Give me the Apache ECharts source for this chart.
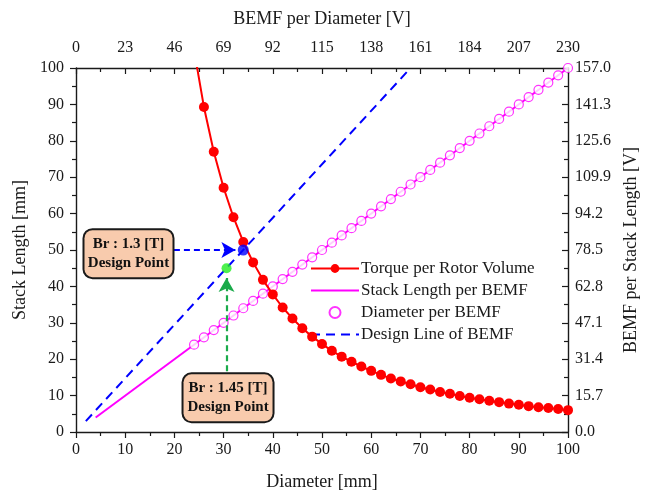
<!DOCTYPE html>
<html>
<head>
<meta charset="utf-8">
<script src="https://cdn.jsdelivr.net/npm/echarts@6/dist/echarts.min.js"></script>
<style>
  html, body { margin: 0; padding: 0; background: #ffffff; }
  #chart { width: 649px; height: 496px; }
</style>
</head>
<body>
<div id="chart"></div>
<script>
// Rotor diameter samples [mm]
const diameter = [24, 26, 28, 30, 32, 34, 36, 38, 40, 42, 44, 46, 48, 50, 52, 54, 56, 58, 60, 62,
                  64, 66, 68, 70, 72, 74, 76, 78, 80, 82, 84, 86, 88, 90, 92, 94, 96, 98, 100];
// Torque per rotor volume, expressed as stack length [mm]
const torquePerVolume = [104.9, 89.3, 77.0, 67.1, 59.0, 52.2, 46.6, 41.8, 37.8, 34.2, 31.2, 28.5, 26.2,
                         24.2, 22.3, 20.7, 19.3, 18.0, 16.8, 15.7, 14.7, 13.9, 13.1, 12.3, 11.7, 11.0,
                         10.5, 9.9, 9.4, 9.0, 8.6, 8.2, 7.8, 7.5, 7.1, 6.8, 6.6, 6.3, 6.0];
// Diameter per BEMF (hollow markers)
const diameterPerBemf = [24, 26, 28, 30, 32, 34, 36, 38, 40, 42, 44, 46, 48, 50, 52, 54, 56, 58, 60, 62,
                         64, 66, 68, 70, 72, 74, 76, 78, 80, 82, 84, 86, 88, 90, 92, 94, 96, 98, 100];
// Stack length per BEMF line
const stackLenX = [4, 100];
const stackLenY = [4, 100];
// Design line of BEMF
const designX = [2, 68];
const designY = [3, 100];
// Design points: [diameter, stack length]
const point13 = [34, 50];
const point145 = [30.6, 45];
// Secondary axis ticks
const bemfPerDiameterMax = 230, bemfPerDiameterStep = 23;
const bemfPerStackMax = 157, bemfPerStackStep = 15.7;

const FONT = 'Liberation Serif';
const INK = '#1a1a1a';

const zip = (xs, ys) => xs.map((x, i) => [x, ys[i]]);

const tickStyle = { color: INK, width: 1.2 };
function baseAxis(extra) {
  return Object.assign({
    type: 'value',
    axisLine: { show: true, onZero: false, lineStyle: { color: INK, width: 1.4 } },
    axisTick: { show: true, length: 6, lineStyle: tickStyle },
    minorTick: { show: true, splitNumber: 2, length: 4, lineStyle: tickStyle },
    splitLine: { show: false },
    axisLabel: { color: INK, fontFamily: FONT, fontSize: 16 },
    nameLocation: 'middle',
    nameTextStyle: { color: INK, fontFamily: FONT, fontSize: 18 }
  }, extra);
}

const chart = echarts.init(document.getElementById('chart'), null, { renderer: 'canvas' });

const option = {
  animation: false,
  backgroundColor: '#ffffff',
  grid: { left: 76, right: 81, top: 68, bottom: 62, containLabel: false },
  xAxis: [
    baseAxis({ position: 'bottom', min: 0, max: 100, interval: 10, name: 'Diameter [mm]', nameGap: 41,
      axisLabel: { color: INK, fontFamily: FONT, fontSize: 16, margin: 10 } }),
    baseAxis({ position: 'top', min: 0, max: bemfPerDiameterMax, interval: bemfPerDiameterStep,
      name: 'BEMF per Diameter [V]', nameGap: 40,
      axisTick: { show: true, inside: true, length: 6, lineStyle: tickStyle },
      minorTick: { show: true, splitNumber: 2, length: 4, lineStyle: tickStyle },
      axisLabel: { color: INK, fontFamily: FONT, fontSize: 16, margin: 12 } })
  ],
  yAxis: [
    baseAxis({ position: 'left', min: 0, max: 100, interval: 10, name: 'Stack Length [mm]', nameGap: 46,
      axisLabel: { color: INK, fontFamily: FONT, fontSize: 16, margin: 12 } }),
    baseAxis({ position: 'right', min: 0, max: bemfPerStackMax, interval: bemfPerStackStep,
      name: 'BEMF per Stack Length [V]', nameGap: 52,
      axisTick: { show: true, inside: true, length: 6, lineStyle: tickStyle },
      minorTick: { show: true, splitNumber: 2, length: 4, lineStyle: tickStyle },
      axisLabel: { color: INK, fontFamily: FONT, fontSize: 16, margin: 7,
        formatter: v => v.toFixed(1) } })
  ],
  legend: {
    orient: 'vertical',
    left: 310,
    top: 260,
    itemWidth: 48,
    itemHeight: 11,
    itemGap: 5,
    padding: 0,
    textStyle: { color: INK, fontFamily: FONT, fontSize: 17, lineHeight: 16, padding: [0, 0, 0, -3] },
    data: [
      { name: 'Torque per Rotor Volume' },
      { name: 'Stack Length per BEMF', itemStyle: { opacity: 0 } },
      { name: 'Diameter per BEMF' },
      { name: 'Design Line of BEMF', itemStyle: { opacity: 0 } }
    ]
  },
  series: [
    {
      name: 'Stack Length per BEMF',
      type: 'line',
      data: zip(stackLenX, stackLenY),
      symbol: 'none',
      lineStyle: { color: '#ff00ff', width: 2 },
      itemStyle: { color: '#ff00ff' },
      z: 2
    },
    {
      name: 'Diameter per BEMF',
      type: 'scatter',
      data: zip(diameter, diameterPerBemf),
      symbol: 'circle',
      symbolSize: 9,
      itemStyle: { color: '#ffffff', borderColor: '#ff00ff', borderWidth: 1.2 },
      z: 3
    },
    {
      name: 'Design Line of BEMF',
      type: 'line',
      data: zip(designX, designY),
      symbol: 'none',
      lineStyle: { color: '#0000ff', width: 2, type: [9, 6] },
      itemStyle: { color: '#0000ff' },
      z: 4
    },
    {
      name: 'Torque per Rotor Volume',
      type: 'line',
      data: zip(diameter, torquePerVolume),
      symbol: 'circle',
      symbolSize: 10,
      clip: true,
      lineStyle: { color: '#ff0000', width: 2 },
      itemStyle: { color: '#ff0000' },
      z: 5
    },
    {
      name: 'Design Points',
      type: 'scatter',
      data: [
        { value: point13, itemStyle: { color: '#0000ff' }, symbolSize: 11 },
        { value: point145, itemStyle: { color: '#22ee22' }, symbolSize: 10 }
      ],
      z: 6,
      markLine: {
        silent: true,
        symbol: ['none', 'arrow'],
        symbolSize: [12, 14],
        label: { show: false },
        data: [
          [ { coord: [19.9, 50], lineStyle: { color: '#0000ff', width: 2.2, type: [6, 4] } },
            { coord: [32.4, 50] } ],
          [ { coord: [30.6, 16.7], lineStyle: { color: '#1aaa4a', width: 2.2, type: [6, 4] } },
            { coord: [30.6, 42.3] } ]
        ]
      },
      markPoint: {
        silent: true,
        symbol: 'circle',
        symbolSize: 1,
        itemStyle: { color: 'rgba(0,0,0,0)' },
        label: {
          show: true,
          position: 'inside',
          color: '#111',
          fontFamily: FONT,
          fontWeight: 'bold',
          fontSize: 15,
          lineHeight: 19,
          align: 'center',
          verticalAlign: 'middle',
          backgroundColor: '#f8cbad',
          borderColor: '#1a1a1a',
          borderWidth: 2,
          borderRadius: 8,
          padding: [5, 6, 4, 6]
        },
        data: [
          { coord: [10.67, 49.0], label: { formatter: 'Br : 1.3 [T]\nDesign Point', width: 76 } },
          { coord: [30.9, 9.4], label: { formatter: 'Br : 1.45 [T]\nDesign Point', width: 77 } }
        ]
      }
    }
  ]
};

chart.setOption(option);
</script>
</body>
</html>
